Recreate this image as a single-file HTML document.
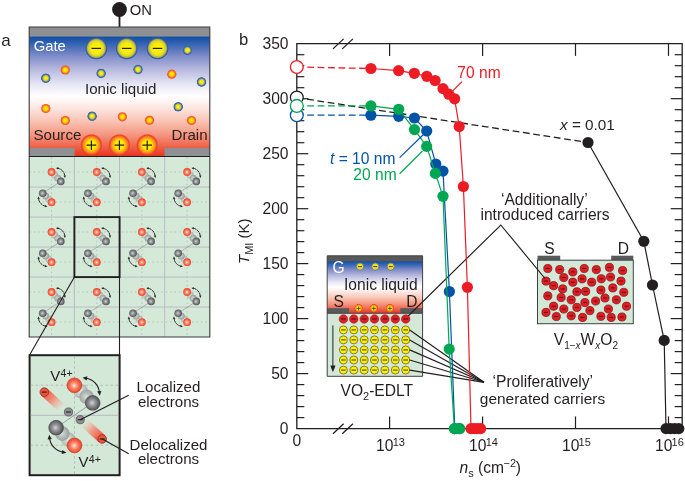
<!DOCTYPE html>
<html><head><meta charset="utf-8"><title>Figure</title>
<style>
html,body{margin:0;padding:0;background:#fff;}
svg{display:block;}
text{font-family:"Liberation Sans",sans-serif;fill:#231f20;}
.it{font-style:italic;}
</style></head><body>
<svg width="685" height="481" viewBox="0 0 685 481">
<defs>
<linearGradient id="liq" x1="0" y1="0" x2="0" y2="1">
<stop offset="0" stop-color="#0d4fa3"/>
<stop offset="0.05" stop-color="#2a5db0"/>
<stop offset="0.166" stop-color="#7f8cc8"/>
<stop offset="0.28" stop-color="#b8badf"/>
<stop offset="0.40" stop-color="#e6e6f4"/>
<stop offset="0.50" stop-color="#ffffff"/>
<stop offset="0.60" stop-color="#fde6e0"/>
<stop offset="0.71" stop-color="#f9c2b3"/>
<stop offset="0.81" stop-color="#f59a84"/>
<stop offset="0.905" stop-color="#ef6a50"/>
<stop offset="1" stop-color="#e8311f"/>
</linearGradient>
<radialGradient id="gMinus" cx="0.5" cy="0.5" r="0.5">
<stop offset="0" stop-color="#fff200"/>
<stop offset="0.45" stop-color="#f8ec10"/>
<stop offset="0.68" stop-color="#dcd32a"/>
<stop offset="0.79" stop-color="#b0ae46"/>
<stop offset="0.86" stop-color="#4f7098"/>
<stop offset="0.91" stop-color="#2c5aa8"/>
<stop offset="0.96" stop-color="#2c5aa8" stop-opacity="0.45"/>
<stop offset="1" stop-color="#2c5aa8" stop-opacity="0"/>
</radialGradient>
<radialGradient id="gPlus" cx="0.5" cy="0.5" r="0.5">
<stop offset="0" stop-color="#fff200"/>
<stop offset="0.4" stop-color="#ffe800"/>
<stop offset="0.62" stop-color="#f9a61a"/>
<stop offset="0.78" stop-color="#f36f21"/>
<stop offset="0.88" stop-color="#ee3e2a"/>
<stop offset="0.94" stop-color="#ee3e2a" stop-opacity="0.55"/>
<stop offset="1" stop-color="#ee3e2a" stop-opacity="0"/>
</radialGradient>
<radialGradient id="gOr" cx="0.5" cy="0.5" r="0.5">
<stop offset="0" stop-color="#fff200"/>
<stop offset="0.45" stop-color="#ffd400"/>
<stop offset="0.75" stop-color="#f7741d"/>
<stop offset="1" stop-color="#ef4136"/>
</radialGradient>
<radialGradient id="gBl" cx="0.5" cy="0.5" r="0.5">
<stop offset="0" stop-color="#fff200"/>
<stop offset="0.42" stop-color="#efe020"/>
<stop offset="0.62" stop-color="#99a35c"/>
<stop offset="0.78" stop-color="#3c68b0"/>
<stop offset="0.92" stop-color="#3c68b0"/>
<stop offset="1" stop-color="#3c68b0" stop-opacity="0.3"/>
</radialGradient>
<radialGradient id="sRed" cx="0.48" cy="0.52" r="0.56">
<stop offset="0" stop-color="#fff1ea"/>
<stop offset="0.3" stop-color="#fb9a82"/>
<stop offset="0.7" stop-color="#f25a3c"/>
<stop offset="1" stop-color="#e8412a"/>
</radialGradient>
<radialGradient id="sGray" cx="0.46" cy="0.5" r="0.58">
<stop offset="0" stop-color="#d6d7d9"/>
<stop offset="0.35" stop-color="#98999c"/>
<stop offset="0.8" stop-color="#5d5e61"/>
<stop offset="1" stop-color="#454547"/>
</radialGradient>
<radialGradient id="sGhost" cx="0.46" cy="0.5" r="0.58">
<stop offset="0" stop-color="#e4e9e5"/>
<stop offset="0.6" stop-color="#bcc5c0"/>
<stop offset="1" stop-color="#a3ada8"/>
</radialGradient>
<radialGradient id="sGhost2" cx="0.46" cy="0.5" r="0.58">
<stop offset="0" stop-color="#d9dedb"/>
<stop offset="0.6" stop-color="#aab2ae"/>
<stop offset="1" stop-color="#8f9894"/>
</radialGradient>
<linearGradient id="tail1" gradientUnits="userSpaceOnUse" x1="44" y1="392" x2="62" y2="408.5">
<stop offset="0" stop-color="#ee4a30"/>
<stop offset="0.5" stop-color="#f28a74" stop-opacity="0.85"/>
<stop offset="1" stop-color="#f6b0a0" stop-opacity="0"/>
</linearGradient>
<linearGradient id="tail2" gradientUnits="userSpaceOnUse" x1="102" y1="438.7" x2="84" y2="422">
<stop offset="0" stop-color="#ee4a30"/>
<stop offset="0.5" stop-color="#f28a74" stop-opacity="0.85"/>
<stop offset="1" stop-color="#f6b0a0" stop-opacity="0"/>
</linearGradient>
<g id="pair">
<line x1="31.6" y1="24.3" x2="13.5" y2="36.1" stroke="#8c8c90" stroke-width="0.6"/>
<circle cx="25.4" cy="18" r="3.5" fill="url(#sGhost)"/>
<circle cx="28.6" cy="21.2" r="3.5" fill="url(#sGhost2)"/>
<circle cx="31.6" cy="24.3" r="3.8" fill="url(#sGray)"/>
<circle cx="22.4" cy="14.9" r="3.9" fill="url(#sRed)"/>
<path d="M28.49 11.13 A8.6 8.6 0 0 1 35.58 19.00" fill="none" stroke="#231f20" stroke-width="0.95" stroke-dasharray="3.2 0.5"/>
<path d="M26.72 10.82 L29.29 10.05 L28.88 12.42 Z" fill="#231f20"/>
<path d="M35.70 20.80 L34.34 18.49 L36.73 18.32 Z" fill="#231f20"/>
<circle cx="19.6" cy="41.9" r="3.5" fill="url(#sGhost)"/>
<circle cx="16.5" cy="38.9" r="3.5" fill="url(#sGhost2)"/>
<circle cx="13.5" cy="36.1" r="3.8" fill="url(#sGray)"/>
<circle cx="22.4" cy="45.1" r="3.9" fill="url(#sRed)"/>
<path d="M16.46 49.07 A8.6 8.6 0 0 1 9.37 41.20" fill="none" stroke="#231f20" stroke-width="0.95" stroke-dasharray="3.2 0.5"/>
<path d="M18.23 49.38 L15.66 50.15 L16.07 47.78 Z" fill="#231f20"/>
<path d="M9.25 39.40 L10.61 41.71 L8.22 41.88 Z" fill="#231f20"/>
</g>
</defs>
<rect width="685" height="481" fill="#fff"/>

<g id="panelA" font-size="15.1">
<text x="1.2" y="46.4" font-size="17">a</text>
<line x1="119.5" y1="9" x2="119.5" y2="28" stroke="#231f20" stroke-width="1.8"/>
<circle cx="119.5" cy="9.5" r="7.4" fill="#231f20"/>
<text x="129.8" y="15" font-size="14.8">ON</text>
<rect x="29.2" y="36" width="180.60000000000002" height="120.5" fill="url(#liq)"/>
<rect x="29.2" y="27" width="180.60000000000002" height="9.6" fill="#8e9093"/>
<rect x="29.2" y="148" width="45.3" height="8.6" fill="#8e9093"/>
<rect x="164.5" y="148" width="45.30000000000001" height="8.6" fill="#8e9093"/>
<circle cx="65.3" cy="70" r="4.6" fill="url(#gOr)"/>
<circle cx="171.8" cy="74.2" r="4.6" fill="url(#gOr)"/>
<circle cx="45.8" cy="108.5" r="4.6" fill="url(#gOr)"/>
<circle cx="65.3" cy="120.5" r="4.6" fill="url(#gOr)"/>
<circle cx="122.4" cy="116.8" r="4.6" fill="url(#gOr)"/>
<circle cx="149.5" cy="120.3" r="4.6" fill="url(#gOr)"/>
<circle cx="191.5" cy="120.5" r="4.6" fill="url(#gOr)"/>
<circle cx="45.8" cy="78.2" r="4.9" fill="url(#gBl)"/>
<circle cx="101.1" cy="73.4" r="4.9" fill="url(#gBl)"/>
<circle cx="138" cy="69.5" r="4.9" fill="url(#gBl)"/>
<circle cx="187.5" cy="50.3" r="4.9" fill="url(#gBl)"/>
<circle cx="201.5" cy="82" r="4.9" fill="url(#gBl)"/>
<circle cx="178.2" cy="106.8" r="4.9" fill="url(#gBl)"/>
<circle cx="92.1" cy="116.2" r="4.9" fill="url(#gBl)"/>
<circle cx="96.3" cy="48.4" r="11.4" fill="url(#gMinus)"/>
<line x1="91.5" y1="48.4" x2="101.1" y2="48.4" stroke="#231f20" stroke-width="1.2"/>
<circle cx="126.7" cy="48.4" r="11.4" fill="url(#gMinus)"/>
<line x1="121.9" y1="48.4" x2="131.5" y2="48.4" stroke="#231f20" stroke-width="1.2"/>
<circle cx="157.5" cy="48.4" r="11.4" fill="url(#gMinus)"/>
<line x1="152.7" y1="48.4" x2="162.3" y2="48.4" stroke="#231f20" stroke-width="1.2"/>
<circle cx="91.4" cy="145" r="11.2" fill="url(#gPlus)"/>
<path d="M86.60000000000001 145.2 h9.6 M91.4 140.4 v9.6" stroke="#231f20" stroke-width="1.2" fill="none"/>
<circle cx="119.4" cy="145" r="11.2" fill="url(#gPlus)"/>
<path d="M114.60000000000001 145.2 h9.6 M119.4 140.4 v9.6" stroke="#231f20" stroke-width="1.2" fill="none"/>
<circle cx="147.2" cy="145" r="11.2" fill="url(#gPlus)"/>
<path d="M142.39999999999998 145.2 h9.6 M147.2 140.4 v9.6" stroke="#231f20" stroke-width="1.2" fill="none"/>
<text x="33.7" y="51" font-size="14.8" style="fill:#fff">Gate</text>
<text x="85" y="94">Ionic liquid</text>
<text x="33.5" y="140">Source</text>
<text x="171.5" y="140">Drain</text>
<rect x="29.2" y="156.3" width="180.60000000000002" height="180.7" fill="#d5e9d9"/>
<line x1="74.4" y1="157.1" x2="74.4" y2="337.0" stroke="#b7b7c2" stroke-width="0.9"/>
<line x1="119.5" y1="157.1" x2="119.5" y2="337.0" stroke="#b7b7c2" stroke-width="0.9"/>
<line x1="164.7" y1="157.1" x2="164.7" y2="337.0" stroke="#b7b7c2" stroke-width="0.9"/>
<line x1="29.2" y1="187.1" x2="209.8" y2="187.1" stroke="#b7b7c2" stroke-width="0.9"/>
<line x1="29.2" y1="217.1" x2="209.8" y2="217.1" stroke="#b7b7c2" stroke-width="0.9"/>
<line x1="29.2" y1="247.1" x2="209.8" y2="247.1" stroke="#b7b7c2" stroke-width="0.9"/>
<line x1="29.2" y1="277.1" x2="209.8" y2="277.1" stroke="#b7b7c2" stroke-width="0.9"/>
<line x1="29.2" y1="307.1" x2="209.8" y2="307.1" stroke="#b7b7c2" stroke-width="0.9"/>
<line x1="51.6" y1="157.1" x2="51.6" y2="337.0" stroke="#aab7b1" stroke-width="0.7" stroke-dasharray="1.7 2.7"/>
<line x1="96.8" y1="157.1" x2="96.8" y2="337.0" stroke="#aab7b1" stroke-width="0.7" stroke-dasharray="1.7 2.7"/>
<line x1="141.9" y1="157.1" x2="141.9" y2="337.0" stroke="#aab7b1" stroke-width="0.7" stroke-dasharray="1.7 2.7"/>
<line x1="187.1" y1="157.1" x2="187.1" y2="337.0" stroke="#aab7b1" stroke-width="0.7" stroke-dasharray="1.7 2.7"/>
<line x1="29.2" y1="172.0" x2="209.8" y2="172.0" stroke="#aab7b1" stroke-width="0.7" stroke-dasharray="1.7 2.7"/>
<line x1="29.2" y1="202.0" x2="209.8" y2="202.0" stroke="#aab7b1" stroke-width="0.7" stroke-dasharray="1.7 2.7"/>
<line x1="29.2" y1="232.0" x2="209.8" y2="232.0" stroke="#aab7b1" stroke-width="0.7" stroke-dasharray="1.7 2.7"/>
<line x1="29.2" y1="262.0" x2="209.8" y2="262.0" stroke="#aab7b1" stroke-width="0.7" stroke-dasharray="1.7 2.7"/>
<line x1="29.2" y1="292.0" x2="209.8" y2="292.0" stroke="#aab7b1" stroke-width="0.7" stroke-dasharray="1.7 2.7"/>
<line x1="29.2" y1="322.0" x2="209.8" y2="322.0" stroke="#aab7b1" stroke-width="0.7" stroke-dasharray="1.7 2.7"/>
<use href="#pair" x="29.2" y="157.1"/>
<use href="#pair" x="29.2" y="217.1"/>
<use href="#pair" x="29.2" y="277.1"/>
<use href="#pair" x="74.4" y="157.1"/>
<use href="#pair" x="74.4" y="217.1"/>
<use href="#pair" x="74.4" y="277.1"/>
<use href="#pair" x="119.5" y="157.1"/>
<use href="#pair" x="119.5" y="217.1"/>
<use href="#pair" x="119.5" y="277.1"/>
<use href="#pair" x="164.7" y="157.1"/>
<use href="#pair" x="164.7" y="217.1"/>
<use href="#pair" x="164.7" y="277.1"/>
<path d="M29.2 27 H209.8 V337.0 H29.2 Z" fill="none" stroke="#3a3a3c" stroke-width="1.1"/>
<line x1="29.2" y1="156.5" x2="209.8" y2="156.5" stroke="#231f20" stroke-width="1"/>
<rect x="74.4" y="217.1" width="45.2" height="60" fill="none" stroke="#231f20" stroke-width="1.9"/>
<line x1="74.4" y1="277" x2="29.6" y2="355" stroke="#231f20" stroke-width="1.1"/>
<line x1="119.5" y1="277" x2="119.5" y2="355" stroke="#231f20" stroke-width="1.1"/>
<rect x="29.6" y="355.2" width="90" height="120" fill="#d4e8d8" stroke="#231f20" stroke-width="2"/>
<line x1="30.6" y1="415.3" x2="118.6" y2="415.3" stroke="#aeabbb" stroke-width="0.8"/>
<line x1="74.5" y1="356.2" x2="74.5" y2="474.2" stroke="#aab4b0" stroke-width="0.8" stroke-dasharray="2.5 2.5"/>
<line x1="30.6" y1="385.2" x2="118.6" y2="385.2" stroke="#aab4b0" stroke-width="0.8" stroke-dasharray="2.5 2.5"/>
<line x1="30.6" y1="445.2" x2="118.6" y2="445.2" stroke="#aab4b0" stroke-width="0.8" stroke-dasharray="2.5 2.5"/>
<line x1="92.9" y1="402.6" x2="56.1" y2="427.7" stroke="#8c8c90" stroke-width="0.8"/>
<path d="M41.1 395.5 L47.5 388.7 L66.2 405.7 L59.8 412.5 Z" fill="url(#tail1)"/>
<path d="M105.4 435.6 L99 442.4 L80.3 425.4 L86.7 418.6 Z" fill="url(#tail2)"/>
<circle cx="80.6" cy="391" r="7.3" fill="url(#sGhost)" opacity="0.95"/>
<circle cx="86.6" cy="396.8" r="7.3" fill="url(#sGhost2)" opacity="0.95"/>
<circle cx="92.7" cy="402.9" r="7.4" fill="url(#sGray)" stroke="#3a3a3c" stroke-width="0.5"/>
<circle cx="74.4" cy="385.3" r="7.4" fill="url(#sRed)" stroke="#c4351f" stroke-width="0.6"/>
<circle cx="68.4" cy="439.6" r="7.3" fill="url(#sGhost)" opacity="0.95"/>
<circle cx="62.3" cy="433.6" r="7.3" fill="url(#sGhost2)" opacity="0.95"/>
<circle cx="56.1" cy="427.7" r="7.4" fill="url(#sGray)" stroke="#3a3a3c" stroke-width="0.5"/>
<circle cx="74.5" cy="445.4" r="7.4" fill="url(#sRed)" stroke="#c4351f" stroke-width="0.6"/>
<circle cx="68.5" cy="412" r="4.1" fill="#8d8f92" stroke="#48484a" stroke-width="0.7"/>
<line x1="66.1" y1="412" x2="70.9" y2="412" stroke="#231f20" stroke-width="1.1"/>
<circle cx="80.2" cy="419.7" r="4.1" fill="#8d8f92" stroke="#48484a" stroke-width="0.7"/>
<line x1="77.8" y1="419.7" x2="82.60000000000001" y2="419.7" stroke="#231f20" stroke-width="1.1"/>
<circle cx="44.3" cy="392.1" r="4.3" fill="#ef5238" stroke="#7a2a1e" stroke-width="0.7"/>
<line x1="41.8" y1="392.1" x2="46.8" y2="392.1" stroke="#231f20" stroke-width="1.1"/>
<circle cx="102.2" cy="439" r="4.3" fill="#ef5238" stroke="#7a2a1e" stroke-width="0.7"/>
<line x1="99.7" y1="439" x2="104.7" y2="439" stroke="#231f20" stroke-width="1.1"/>
<path d="M85.90 378.25 A15.8 15.8 0 0 1 99.41 392.25" fill="none" stroke="#231f20" stroke-width="1.1"/>
<path d="M82.48 377.77 L87.33 376.33 L86.75 380.49 Z" fill="#231f20"/>
<path d="M99.77 395.68 L97.20 391.32 L101.38 390.89 Z" fill="#231f20"/>
<path d="M63.10 452.15 A15.8 15.8 0 0 1 49.59 438.15" fill="none" stroke="#231f20" stroke-width="1.1"/>
<path d="M66.52 452.63 L61.67 454.07 L62.25 449.91 Z" fill="#231f20"/>
<path d="M49.23 434.72 L51.80 439.08 L47.62 439.51 Z" fill="#231f20"/>
<text x="50.3" y="381.4" font-size="15">V<tspan font-size="10.6" dy="-4.8" dx="0.3">4+</tspan></text>
<text x="78.5" y="467.4" font-size="15">V<tspan font-size="10.6" dy="-4.6" dx="0.3">4+</tspan></text>
<line x1="80.2" y1="419.7" x2="128.7" y2="395.3" stroke="#231f20" stroke-width="1.2"/>
<line x1="101.9" y1="438.7" x2="128.7" y2="453.8" stroke="#231f20" stroke-width="1.2"/>
<text x="168.5" y="391.8" text-anchor="middle">Localized</text>
<text x="168.5" y="406.5" text-anchor="middle">electrons</text>
<text x="168.5" y="449.6" text-anchor="middle">Delocalized</text>
<text x="168.5" y="464.4" text-anchor="middle">electrons</text>
</g>
<g id="panelB" font-size="15.6">
<text x="238.9" y="44.8" font-size="16.6">b</text>
<rect x="327.2" y="261" width="95.40000000000003" height="52.3" fill="url(#liq)"/>
<rect x="327.2" y="255.8" width="95.40000000000003" height="5.6" fill="#58595b"/>
<rect x="327.2" y="308.2" width="21.900000000000034" height="5.1" fill="#58595b"/>
<rect x="400.4" y="308.2" width="22.200000000000045" height="5.1" fill="#58595b"/>
<rect x="327.2" y="313.3" width="95.40000000000003" height="63.0" fill="#d4e8d8"/>
<path d="M327.2 255.8 H422.6 V376.3 H327.2 Z M327.2 313.3 H422.6" fill="none" stroke="#414042" stroke-width="1"/>
<circle cx="360" cy="266.6" r="3.6" fill="#f2e21a" stroke="#5f79a0" stroke-width="0.9"/>
<line x1="358" y1="266.6" x2="362" y2="266.6" stroke="#231f20" stroke-width="0.8"/>
<circle cx="375.3" cy="266.6" r="3.6" fill="#f2e21a" stroke="#5f79a0" stroke-width="0.9"/>
<line x1="373.3" y1="266.6" x2="377.3" y2="266.6" stroke="#231f20" stroke-width="0.8"/>
<circle cx="390.7" cy="266.6" r="3.6" fill="#f2e21a" stroke="#5f79a0" stroke-width="0.9"/>
<line x1="388.7" y1="266.6" x2="392.7" y2="266.6" stroke="#231f20" stroke-width="0.8"/>
<circle cx="358.6" cy="308.2" r="4.4" fill="url(#gPlus)"/>
<path d="M356.6 308.4 h4 M358.6 306.4 v4" stroke="#231f20" stroke-width="0.7" fill="none"/>
<circle cx="373.8" cy="308.2" r="4.4" fill="url(#gPlus)"/>
<path d="M371.8 308.4 h4 M373.8 306.4 v4" stroke="#231f20" stroke-width="0.7" fill="none"/>
<circle cx="389.9" cy="308.2" r="4.4" fill="url(#gPlus)"/>
<path d="M387.9 308.4 h4 M389.9 306.4 v4" stroke="#231f20" stroke-width="0.7" fill="none"/>
<text x="332.5" y="272.9" style="fill:#fff">G</text>
<text x="344" y="290.4">Ionic liquid</text>
<text x="333.5" y="307">S</text>
<text x="406.3" y="307">D</text>
<circle cx="343.4" cy="319" r="4.3" fill="#e31b23" stroke="#8c1c1c" stroke-width="0.5"/>
<line x1="341.0" y1="319" x2="345.8" y2="319" stroke="#231f20" stroke-width="0.9"/>
<circle cx="353.8" cy="319" r="4.3" fill="#e31b23" stroke="#8c1c1c" stroke-width="0.5"/>
<line x1="351.4" y1="319" x2="356.2" y2="319" stroke="#231f20" stroke-width="0.9"/>
<circle cx="364.2" cy="319" r="4.3" fill="#e31b23" stroke="#8c1c1c" stroke-width="0.5"/>
<line x1="361.8" y1="319" x2="366.6" y2="319" stroke="#231f20" stroke-width="0.9"/>
<circle cx="374.5" cy="319" r="4.3" fill="#e31b23" stroke="#8c1c1c" stroke-width="0.5"/>
<line x1="372.1" y1="319" x2="376.9" y2="319" stroke="#231f20" stroke-width="0.9"/>
<circle cx="384.9" cy="319" r="4.3" fill="#e31b23" stroke="#8c1c1c" stroke-width="0.5"/>
<line x1="382.5" y1="319" x2="387.3" y2="319" stroke="#231f20" stroke-width="0.9"/>
<circle cx="395.3" cy="319" r="4.3" fill="#e31b23" stroke="#8c1c1c" stroke-width="0.5"/>
<line x1="392.9" y1="319" x2="397.7" y2="319" stroke="#231f20" stroke-width="0.9"/>
<circle cx="405.7" cy="319" r="4.3" fill="#e31b23" stroke="#8c1c1c" stroke-width="0.5"/>
<line x1="403.3" y1="319" x2="408.1" y2="319" stroke="#231f20" stroke-width="0.9"/>
<circle cx="343.4" cy="329.9" r="4" fill="#fff200" stroke="#5c4a12" stroke-width="0.7"/>
<line x1="341.1" y1="329.9" x2="345.7" y2="329.9" stroke="#231f20" stroke-width="0.9"/>
<circle cx="353.8" cy="329.9" r="4" fill="#fff200" stroke="#5c4a12" stroke-width="0.7"/>
<line x1="351.5" y1="329.9" x2="356.1" y2="329.9" stroke="#231f20" stroke-width="0.9"/>
<circle cx="364.2" cy="329.9" r="4" fill="#fff200" stroke="#5c4a12" stroke-width="0.7"/>
<line x1="361.9" y1="329.9" x2="366.5" y2="329.9" stroke="#231f20" stroke-width="0.9"/>
<circle cx="374.5" cy="329.9" r="4" fill="#fff200" stroke="#5c4a12" stroke-width="0.7"/>
<line x1="372.2" y1="329.9" x2="376.8" y2="329.9" stroke="#231f20" stroke-width="0.9"/>
<circle cx="384.9" cy="329.9" r="4" fill="#fff200" stroke="#5c4a12" stroke-width="0.7"/>
<line x1="382.6" y1="329.9" x2="387.2" y2="329.9" stroke="#231f20" stroke-width="0.9"/>
<circle cx="395.3" cy="329.9" r="4" fill="#fff200" stroke="#5c4a12" stroke-width="0.7"/>
<line x1="393.0" y1="329.9" x2="397.6" y2="329.9" stroke="#231f20" stroke-width="0.9"/>
<circle cx="405.7" cy="329.9" r="4" fill="#fff200" stroke="#5c4a12" stroke-width="0.7"/>
<line x1="403.4" y1="329.9" x2="408.0" y2="329.9" stroke="#231f20" stroke-width="0.9"/>
<circle cx="343.4" cy="339.9" r="4" fill="#fff200" stroke="#5c4a12" stroke-width="0.7"/>
<line x1="341.1" y1="339.9" x2="345.7" y2="339.9" stroke="#231f20" stroke-width="0.9"/>
<circle cx="353.8" cy="339.9" r="4" fill="#fff200" stroke="#5c4a12" stroke-width="0.7"/>
<line x1="351.5" y1="339.9" x2="356.1" y2="339.9" stroke="#231f20" stroke-width="0.9"/>
<circle cx="364.2" cy="339.9" r="4" fill="#fff200" stroke="#5c4a12" stroke-width="0.7"/>
<line x1="361.9" y1="339.9" x2="366.5" y2="339.9" stroke="#231f20" stroke-width="0.9"/>
<circle cx="374.5" cy="339.9" r="4" fill="#fff200" stroke="#5c4a12" stroke-width="0.7"/>
<line x1="372.2" y1="339.9" x2="376.8" y2="339.9" stroke="#231f20" stroke-width="0.9"/>
<circle cx="384.9" cy="339.9" r="4" fill="#fff200" stroke="#5c4a12" stroke-width="0.7"/>
<line x1="382.6" y1="339.9" x2="387.2" y2="339.9" stroke="#231f20" stroke-width="0.9"/>
<circle cx="395.3" cy="339.9" r="4" fill="#fff200" stroke="#5c4a12" stroke-width="0.7"/>
<line x1="393.0" y1="339.9" x2="397.6" y2="339.9" stroke="#231f20" stroke-width="0.9"/>
<circle cx="405.7" cy="339.9" r="4" fill="#fff200" stroke="#5c4a12" stroke-width="0.7"/>
<line x1="403.4" y1="339.9" x2="408.0" y2="339.9" stroke="#231f20" stroke-width="0.9"/>
<circle cx="343.4" cy="349.9" r="4" fill="#fff200" stroke="#5c4a12" stroke-width="0.7"/>
<line x1="341.1" y1="349.9" x2="345.7" y2="349.9" stroke="#231f20" stroke-width="0.9"/>
<circle cx="353.8" cy="349.9" r="4" fill="#fff200" stroke="#5c4a12" stroke-width="0.7"/>
<line x1="351.5" y1="349.9" x2="356.1" y2="349.9" stroke="#231f20" stroke-width="0.9"/>
<circle cx="364.2" cy="349.9" r="4" fill="#fff200" stroke="#5c4a12" stroke-width="0.7"/>
<line x1="361.9" y1="349.9" x2="366.5" y2="349.9" stroke="#231f20" stroke-width="0.9"/>
<circle cx="374.5" cy="349.9" r="4" fill="#fff200" stroke="#5c4a12" stroke-width="0.7"/>
<line x1="372.2" y1="349.9" x2="376.8" y2="349.9" stroke="#231f20" stroke-width="0.9"/>
<circle cx="384.9" cy="349.9" r="4" fill="#fff200" stroke="#5c4a12" stroke-width="0.7"/>
<line x1="382.6" y1="349.9" x2="387.2" y2="349.9" stroke="#231f20" stroke-width="0.9"/>
<circle cx="395.3" cy="349.9" r="4" fill="#fff200" stroke="#5c4a12" stroke-width="0.7"/>
<line x1="393.0" y1="349.9" x2="397.6" y2="349.9" stroke="#231f20" stroke-width="0.9"/>
<circle cx="405.7" cy="349.9" r="4" fill="#fff200" stroke="#5c4a12" stroke-width="0.7"/>
<line x1="403.4" y1="349.9" x2="408.0" y2="349.9" stroke="#231f20" stroke-width="0.9"/>
<circle cx="343.4" cy="360" r="4" fill="#fff200" stroke="#5c4a12" stroke-width="0.7"/>
<line x1="341.1" y1="360" x2="345.7" y2="360" stroke="#231f20" stroke-width="0.9"/>
<circle cx="353.8" cy="360" r="4" fill="#fff200" stroke="#5c4a12" stroke-width="0.7"/>
<line x1="351.5" y1="360" x2="356.1" y2="360" stroke="#231f20" stroke-width="0.9"/>
<circle cx="364.2" cy="360" r="4" fill="#fff200" stroke="#5c4a12" stroke-width="0.7"/>
<line x1="361.9" y1="360" x2="366.5" y2="360" stroke="#231f20" stroke-width="0.9"/>
<circle cx="374.5" cy="360" r="4" fill="#fff200" stroke="#5c4a12" stroke-width="0.7"/>
<line x1="372.2" y1="360" x2="376.8" y2="360" stroke="#231f20" stroke-width="0.9"/>
<circle cx="384.9" cy="360" r="4" fill="#fff200" stroke="#5c4a12" stroke-width="0.7"/>
<line x1="382.6" y1="360" x2="387.2" y2="360" stroke="#231f20" stroke-width="0.9"/>
<circle cx="395.3" cy="360" r="4" fill="#fff200" stroke="#5c4a12" stroke-width="0.7"/>
<line x1="393.0" y1="360" x2="397.6" y2="360" stroke="#231f20" stroke-width="0.9"/>
<circle cx="405.7" cy="360" r="4" fill="#fff200" stroke="#5c4a12" stroke-width="0.7"/>
<line x1="403.4" y1="360" x2="408.0" y2="360" stroke="#231f20" stroke-width="0.9"/>
<circle cx="343.4" cy="370.1" r="4" fill="#fff200" stroke="#5c4a12" stroke-width="0.7"/>
<line x1="341.1" y1="370.1" x2="345.7" y2="370.1" stroke="#231f20" stroke-width="0.9"/>
<circle cx="353.8" cy="370.1" r="4" fill="#fff200" stroke="#5c4a12" stroke-width="0.7"/>
<line x1="351.5" y1="370.1" x2="356.1" y2="370.1" stroke="#231f20" stroke-width="0.9"/>
<circle cx="364.2" cy="370.1" r="4" fill="#fff200" stroke="#5c4a12" stroke-width="0.7"/>
<line x1="361.9" y1="370.1" x2="366.5" y2="370.1" stroke="#231f20" stroke-width="0.9"/>
<circle cx="374.5" cy="370.1" r="4" fill="#fff200" stroke="#5c4a12" stroke-width="0.7"/>
<line x1="372.2" y1="370.1" x2="376.8" y2="370.1" stroke="#231f20" stroke-width="0.9"/>
<circle cx="384.9" cy="370.1" r="4" fill="#fff200" stroke="#5c4a12" stroke-width="0.7"/>
<line x1="382.6" y1="370.1" x2="387.2" y2="370.1" stroke="#231f20" stroke-width="0.9"/>
<circle cx="395.3" cy="370.1" r="4" fill="#fff200" stroke="#5c4a12" stroke-width="0.7"/>
<line x1="393.0" y1="370.1" x2="397.6" y2="370.1" stroke="#231f20" stroke-width="0.9"/>
<circle cx="405.7" cy="370.1" r="4" fill="#fff200" stroke="#5c4a12" stroke-width="0.7"/>
<line x1="403.4" y1="370.1" x2="408.0" y2="370.1" stroke="#231f20" stroke-width="0.9"/>
<line x1="332.9" y1="325.4" x2="332.9" y2="368" stroke="#231f20" stroke-width="1"/>
<path d="M330.3 365.5 L332.9 372.3 L335.5 365.5 Z" fill="#231f20"/>
<text x="340.5" y="396">VO<tspan font-size="11" dy="4.2">2</tspan><tspan dy="-4.2">-EDLT</tspan></text>
<line x1="409.7" y1="329.9" x2="484" y2="382.3" stroke="#231f20" stroke-width="1.2"/>
<line x1="409.7" y1="339.9" x2="484" y2="382.3" stroke="#231f20" stroke-width="1.2"/>
<line x1="409.7" y1="349.9" x2="484" y2="382.3" stroke="#231f20" stroke-width="1.2"/>
<line x1="409.7" y1="360" x2="484" y2="382.3" stroke="#231f20" stroke-width="1.2"/>
<line x1="409.7" y1="370.1" x2="484" y2="382.3" stroke="#231f20" stroke-width="1.2"/>
<rect x="537.5" y="255.7" width="22.700000000000045" height="4.6" fill="#58595b"/>
<rect x="611.2" y="255.7" width="22.09999999999991" height="4.6" fill="#58595b"/>
<rect x="537.5" y="260.2" width="95.79999999999995" height="63.5" fill="#d4e8d8" stroke="#414042" stroke-width="1"/>
<circle cx="547.8" cy="268.5" r="4.1" fill="#e31b23" stroke="#6a1515" stroke-width="0.7"/>
<line x1="545.8" y1="268.5" x2="549.8" y2="268.5" stroke="#4a0d0d" stroke-width="0.9"/>
<circle cx="559.7" cy="269.6" r="4.1" fill="#e31b23" stroke="#6a1515" stroke-width="0.7"/>
<line x1="557.7" y1="269.6" x2="561.7" y2="269.6" stroke="#4a0d0d" stroke-width="0.9"/>
<circle cx="572.8" cy="271.9" r="4.1" fill="#e31b23" stroke="#6a1515" stroke-width="0.7"/>
<line x1="570.8" y1="271.9" x2="574.8" y2="271.9" stroke="#4a0d0d" stroke-width="0.9"/>
<circle cx="584.2" cy="268.5" r="4.1" fill="#e31b23" stroke="#6a1515" stroke-width="0.7"/>
<line x1="582.2" y1="268.5" x2="586.2" y2="268.5" stroke="#4a0d0d" stroke-width="0.9"/>
<circle cx="596.3" cy="269.6" r="4.1" fill="#e31b23" stroke="#6a1515" stroke-width="0.7"/>
<line x1="594.3" y1="269.6" x2="598.3" y2="269.6" stroke="#4a0d0d" stroke-width="0.9"/>
<circle cx="609.4" cy="267.4" r="4.1" fill="#e31b23" stroke="#6a1515" stroke-width="0.7"/>
<line x1="607.4" y1="267.4" x2="611.4" y2="267.4" stroke="#4a0d0d" stroke-width="0.9"/>
<circle cx="622.6" cy="270.6" r="4.1" fill="#e31b23" stroke="#6a1515" stroke-width="0.7"/>
<line x1="620.6" y1="270.6" x2="624.6" y2="270.6" stroke="#4a0d0d" stroke-width="0.9"/>
<circle cx="563.8" cy="277.6" r="4.1" fill="#e31b23" stroke="#6a1515" stroke-width="0.7"/>
<line x1="561.8" y1="277.6" x2="565.8" y2="277.6" stroke="#4a0d0d" stroke-width="0.9"/>
<circle cx="572.8" cy="282.2" r="4.1" fill="#e31b23" stroke="#6a1515" stroke-width="0.7"/>
<line x1="570.8" y1="282.2" x2="574.8" y2="282.2" stroke="#4a0d0d" stroke-width="0.9"/>
<circle cx="582.1" cy="278.8" r="4.1" fill="#e31b23" stroke="#6a1515" stroke-width="0.7"/>
<line x1="580.1" y1="278.8" x2="584.1" y2="278.8" stroke="#4a0d0d" stroke-width="0.9"/>
<circle cx="591.7" cy="282.2" r="4.1" fill="#e31b23" stroke="#6a1515" stroke-width="0.7"/>
<line x1="589.7" y1="282.2" x2="593.7" y2="282.2" stroke="#4a0d0d" stroke-width="0.9"/>
<circle cx="601.3" cy="278.8" r="4.1" fill="#e31b23" stroke="#6a1515" stroke-width="0.7"/>
<line x1="599.3" y1="278.8" x2="603.3" y2="278.8" stroke="#4a0d0d" stroke-width="0.9"/>
<circle cx="610.5" cy="277.0" r="4.1" fill="#e31b23" stroke="#6a1515" stroke-width="0.7"/>
<line x1="608.5" y1="277.0" x2="612.5" y2="277.0" stroke="#4a0d0d" stroke-width="0.9"/>
<circle cx="621.0" cy="281.1" r="4.1" fill="#e31b23" stroke="#6a1515" stroke-width="0.7"/>
<line x1="619.0" y1="281.1" x2="623.0" y2="281.1" stroke="#4a0d0d" stroke-width="0.9"/>
<circle cx="546.0" cy="281.1" r="4.1" fill="#e31b23" stroke="#6a1515" stroke-width="0.7"/>
<line x1="544.0" y1="281.1" x2="548.0" y2="281.1" stroke="#4a0d0d" stroke-width="0.9"/>
<circle cx="553.6" cy="285.7" r="4.1" fill="#e31b23" stroke="#6a1515" stroke-width="0.7"/>
<line x1="551.6" y1="285.7" x2="555.6" y2="285.7" stroke="#4a0d0d" stroke-width="0.9"/>
<circle cx="562.7" cy="288.9" r="4.1" fill="#e31b23" stroke="#6a1515" stroke-width="0.7"/>
<line x1="560.7" y1="288.9" x2="564.7" y2="288.9" stroke="#4a0d0d" stroke-width="0.9"/>
<circle cx="576.9" cy="291.8" r="4.1" fill="#e31b23" stroke="#6a1515" stroke-width="0.7"/>
<line x1="574.9" y1="291.8" x2="578.9" y2="291.8" stroke="#4a0d0d" stroke-width="0.9"/>
<circle cx="585.6" cy="291.4" r="4.1" fill="#e31b23" stroke="#6a1515" stroke-width="0.7"/>
<line x1="583.6" y1="291.4" x2="587.6" y2="291.4" stroke="#4a0d0d" stroke-width="0.9"/>
<circle cx="600.9" cy="290.0" r="4.1" fill="#e31b23" stroke="#6a1515" stroke-width="0.7"/>
<line x1="598.9" y1="290.0" x2="602.9" y2="290.0" stroke="#4a0d0d" stroke-width="0.9"/>
<circle cx="612.8" cy="287.9" r="4.1" fill="#e31b23" stroke="#6a1515" stroke-width="0.7"/>
<line x1="610.8" y1="287.9" x2="614.8" y2="287.9" stroke="#4a0d0d" stroke-width="0.9"/>
<circle cx="623.8" cy="292.3" r="4.1" fill="#e31b23" stroke="#6a1515" stroke-width="0.7"/>
<line x1="621.8" y1="292.3" x2="625.8" y2="292.3" stroke="#4a0d0d" stroke-width="0.9"/>
<circle cx="547.8" cy="295.9" r="4.1" fill="#e31b23" stroke="#6a1515" stroke-width="0.7"/>
<line x1="545.8" y1="295.9" x2="549.8" y2="295.9" stroke="#4a0d0d" stroke-width="0.9"/>
<circle cx="561.1" cy="297.5" r="4.1" fill="#e31b23" stroke="#6a1515" stroke-width="0.7"/>
<line x1="559.1" y1="297.5" x2="563.1" y2="297.5" stroke="#4a0d0d" stroke-width="0.9"/>
<circle cx="571.2" cy="299.8" r="4.1" fill="#e31b23" stroke="#6a1515" stroke-width="0.7"/>
<line x1="569.2" y1="299.8" x2="573.2" y2="299.8" stroke="#4a0d0d" stroke-width="0.9"/>
<circle cx="584.9" cy="302.6" r="4.1" fill="#e31b23" stroke="#6a1515" stroke-width="0.7"/>
<line x1="582.9" y1="302.6" x2="586.9" y2="302.6" stroke="#4a0d0d" stroke-width="0.9"/>
<circle cx="595.6" cy="301.0" r="4.1" fill="#e31b23" stroke="#6a1515" stroke-width="0.7"/>
<line x1="593.6" y1="301.0" x2="597.6" y2="301.0" stroke="#4a0d0d" stroke-width="0.9"/>
<circle cx="605.0" cy="298.0" r="4.1" fill="#e31b23" stroke="#6a1515" stroke-width="0.7"/>
<line x1="603.0" y1="298.0" x2="607.0" y2="298.0" stroke="#4a0d0d" stroke-width="0.9"/>
<circle cx="616.4" cy="299.8" r="4.1" fill="#e31b23" stroke="#6a1515" stroke-width="0.7"/>
<line x1="614.4" y1="299.8" x2="618.4" y2="299.8" stroke="#4a0d0d" stroke-width="0.9"/>
<circle cx="626.5" cy="306.2" r="4.1" fill="#e31b23" stroke="#6a1515" stroke-width="0.7"/>
<line x1="624.5" y1="306.2" x2="628.5" y2="306.2" stroke="#4a0d0d" stroke-width="0.9"/>
<circle cx="553.6" cy="306.2" r="4.1" fill="#e31b23" stroke="#6a1515" stroke-width="0.7"/>
<line x1="551.6" y1="306.2" x2="555.6" y2="306.2" stroke="#4a0d0d" stroke-width="0.9"/>
<circle cx="563.8" cy="309.0" r="4.1" fill="#e31b23" stroke="#6a1515" stroke-width="0.7"/>
<line x1="561.8" y1="309.0" x2="565.8" y2="309.0" stroke="#4a0d0d" stroke-width="0.9"/>
<circle cx="576.9" cy="307.4" r="4.1" fill="#e31b23" stroke="#6a1515" stroke-width="0.7"/>
<line x1="574.9" y1="307.4" x2="578.9" y2="307.4" stroke="#4a0d0d" stroke-width="0.9"/>
<circle cx="589.9" cy="310.6" r="4.1" fill="#e31b23" stroke="#6a1515" stroke-width="0.7"/>
<line x1="587.9" y1="310.6" x2="591.9" y2="310.6" stroke="#4a0d0d" stroke-width="0.9"/>
<circle cx="608.4" cy="309.0" r="4.1" fill="#e31b23" stroke="#6a1515" stroke-width="0.7"/>
<line x1="606.4" y1="309.0" x2="610.4" y2="309.0" stroke="#4a0d0d" stroke-width="0.9"/>
<circle cx="546.0" cy="312.4" r="4.1" fill="#e31b23" stroke="#6a1515" stroke-width="0.7"/>
<line x1="544.0" y1="312.4" x2="548.0" y2="312.4" stroke="#4a0d0d" stroke-width="0.9"/>
<circle cx="556.3" cy="316.5" r="4.1" fill="#e31b23" stroke="#6a1515" stroke-width="0.7"/>
<line x1="554.3" y1="316.5" x2="558.3" y2="316.5" stroke="#4a0d0d" stroke-width="0.9"/>
<circle cx="571.2" cy="315.8" r="4.1" fill="#e31b23" stroke="#6a1515" stroke-width="0.7"/>
<line x1="569.2" y1="315.8" x2="573.2" y2="315.8" stroke="#4a0d0d" stroke-width="0.9"/>
<circle cx="582.6" cy="317.4" r="4.1" fill="#e31b23" stroke="#6a1515" stroke-width="0.7"/>
<line x1="580.6" y1="317.4" x2="584.6" y2="317.4" stroke="#4a0d0d" stroke-width="0.9"/>
<circle cx="600.9" cy="316.3" r="4.1" fill="#e31b23" stroke="#6a1515" stroke-width="0.7"/>
<line x1="598.9" y1="316.3" x2="602.9" y2="316.3" stroke="#4a0d0d" stroke-width="0.9"/>
<circle cx="611.2" cy="317.4" r="4.1" fill="#e31b23" stroke="#6a1515" stroke-width="0.7"/>
<line x1="609.2" y1="317.4" x2="613.2" y2="317.4" stroke="#4a0d0d" stroke-width="0.9"/>
<circle cx="621.9" cy="317.0" r="4.1" fill="#e31b23" stroke="#6a1515" stroke-width="0.7"/>
<line x1="619.9" y1="317.0" x2="623.9" y2="317.0" stroke="#4a0d0d" stroke-width="0.9"/>
<text x="544.3" y="254.3">S</text>
<text x="617.8" y="254.3">D</text>
<text x="553.8" y="344.8">V<tspan font-size="10" dy="4.2">1−<tspan class="it">x</tspan></tspan><tspan dy="-4.2">W</tspan><tspan font-size="10" dy="4.2" class="it">x</tspan><tspan dy="-4.2">O</tspan><tspan font-size="10" dy="4.2">2</tspan></text>
<path d="M408.2 316 L500.8 225 L545 278.5" fill="none" stroke="#231f20" stroke-width="1.15"/>
<text x="544.3" y="204.8" text-anchor="middle">‘Additionally’</text>
<text x="545" y="220" text-anchor="middle">introduced carriers</text>
<text x="542.8" y="387.2" text-anchor="middle">‘Proliferatively’</text>
<text x="542.5" y="403.6" text-anchor="middle" font-size="15.45">generated carriers</text>
<path d="M296.8 428.6 V43.7 H682.2 V428.6 Z" fill="none" stroke="#231f20" stroke-width="1.3"/>
<text x="288.5" y="434.1" text-anchor="end">0</text>
<line x1="296.8" y1="417.6" x2="304.3" y2="417.6" stroke="#231f20" stroke-width="1.2"/>
<line x1="682.2" y1="417.6" x2="674.7" y2="417.6" stroke="#231f20" stroke-width="1.2"/>
<line x1="296.8" y1="406.6" x2="304.3" y2="406.6" stroke="#231f20" stroke-width="1.2"/>
<line x1="682.2" y1="406.6" x2="674.7" y2="406.6" stroke="#231f20" stroke-width="1.2"/>
<line x1="296.8" y1="395.6" x2="304.3" y2="395.6" stroke="#231f20" stroke-width="1.2"/>
<line x1="682.2" y1="395.6" x2="674.7" y2="395.6" stroke="#231f20" stroke-width="1.2"/>
<line x1="296.8" y1="384.6" x2="304.3" y2="384.6" stroke="#231f20" stroke-width="1.2"/>
<line x1="682.2" y1="384.6" x2="674.7" y2="384.6" stroke="#231f20" stroke-width="1.2"/>
<line x1="296.8" y1="373.6" x2="308.3" y2="373.6" stroke="#231f20" stroke-width="1.2"/>
<line x1="682.2" y1="373.6" x2="670.7" y2="373.6" stroke="#231f20" stroke-width="1.2"/>
<text x="288.5" y="379.1" text-anchor="end">50</text>
<line x1="296.8" y1="362.6" x2="304.3" y2="362.6" stroke="#231f20" stroke-width="1.2"/>
<line x1="682.2" y1="362.6" x2="674.7" y2="362.6" stroke="#231f20" stroke-width="1.2"/>
<line x1="296.8" y1="351.6" x2="304.3" y2="351.6" stroke="#231f20" stroke-width="1.2"/>
<line x1="682.2" y1="351.6" x2="674.7" y2="351.6" stroke="#231f20" stroke-width="1.2"/>
<line x1="296.8" y1="340.6" x2="304.3" y2="340.6" stroke="#231f20" stroke-width="1.2"/>
<line x1="682.2" y1="340.6" x2="674.7" y2="340.6" stroke="#231f20" stroke-width="1.2"/>
<line x1="296.8" y1="329.6" x2="304.3" y2="329.6" stroke="#231f20" stroke-width="1.2"/>
<line x1="682.2" y1="329.6" x2="674.7" y2="329.6" stroke="#231f20" stroke-width="1.2"/>
<line x1="296.8" y1="318.6" x2="308.3" y2="318.6" stroke="#231f20" stroke-width="1.2"/>
<line x1="682.2" y1="318.6" x2="670.7" y2="318.6" stroke="#231f20" stroke-width="1.2"/>
<text x="288.5" y="324.1" text-anchor="end">100</text>
<line x1="296.8" y1="307.6" x2="304.3" y2="307.6" stroke="#231f20" stroke-width="1.2"/>
<line x1="682.2" y1="307.6" x2="674.7" y2="307.6" stroke="#231f20" stroke-width="1.2"/>
<line x1="296.8" y1="296.6" x2="304.3" y2="296.6" stroke="#231f20" stroke-width="1.2"/>
<line x1="682.2" y1="296.6" x2="674.7" y2="296.6" stroke="#231f20" stroke-width="1.2"/>
<line x1="296.8" y1="285.6" x2="304.3" y2="285.6" stroke="#231f20" stroke-width="1.2"/>
<line x1="682.2" y1="285.6" x2="674.7" y2="285.6" stroke="#231f20" stroke-width="1.2"/>
<line x1="296.8" y1="274.6" x2="304.3" y2="274.6" stroke="#231f20" stroke-width="1.2"/>
<line x1="682.2" y1="274.6" x2="674.7" y2="274.6" stroke="#231f20" stroke-width="1.2"/>
<line x1="296.8" y1="263.6" x2="308.3" y2="263.6" stroke="#231f20" stroke-width="1.2"/>
<line x1="682.2" y1="263.6" x2="670.7" y2="263.6" stroke="#231f20" stroke-width="1.2"/>
<text x="288.5" y="269.1" text-anchor="end">150</text>
<line x1="296.8" y1="252.6" x2="304.3" y2="252.6" stroke="#231f20" stroke-width="1.2"/>
<line x1="682.2" y1="252.6" x2="674.7" y2="252.6" stroke="#231f20" stroke-width="1.2"/>
<line x1="296.8" y1="241.6" x2="304.3" y2="241.6" stroke="#231f20" stroke-width="1.2"/>
<line x1="682.2" y1="241.6" x2="674.7" y2="241.6" stroke="#231f20" stroke-width="1.2"/>
<line x1="296.8" y1="230.7" x2="304.3" y2="230.7" stroke="#231f20" stroke-width="1.2"/>
<line x1="682.2" y1="230.7" x2="674.7" y2="230.7" stroke="#231f20" stroke-width="1.2"/>
<line x1="296.8" y1="219.7" x2="304.3" y2="219.7" stroke="#231f20" stroke-width="1.2"/>
<line x1="682.2" y1="219.7" x2="674.7" y2="219.7" stroke="#231f20" stroke-width="1.2"/>
<line x1="296.8" y1="208.7" x2="308.3" y2="208.7" stroke="#231f20" stroke-width="1.2"/>
<line x1="682.2" y1="208.7" x2="670.7" y2="208.7" stroke="#231f20" stroke-width="1.2"/>
<text x="288.5" y="214.2" text-anchor="end">200</text>
<line x1="296.8" y1="197.7" x2="304.3" y2="197.7" stroke="#231f20" stroke-width="1.2"/>
<line x1="682.2" y1="197.7" x2="674.7" y2="197.7" stroke="#231f20" stroke-width="1.2"/>
<line x1="296.8" y1="186.7" x2="304.3" y2="186.7" stroke="#231f20" stroke-width="1.2"/>
<line x1="682.2" y1="186.7" x2="674.7" y2="186.7" stroke="#231f20" stroke-width="1.2"/>
<line x1="296.8" y1="175.7" x2="304.3" y2="175.7" stroke="#231f20" stroke-width="1.2"/>
<line x1="682.2" y1="175.7" x2="674.7" y2="175.7" stroke="#231f20" stroke-width="1.2"/>
<line x1="296.8" y1="164.7" x2="304.3" y2="164.7" stroke="#231f20" stroke-width="1.2"/>
<line x1="682.2" y1="164.7" x2="674.7" y2="164.7" stroke="#231f20" stroke-width="1.2"/>
<line x1="296.8" y1="153.7" x2="308.3" y2="153.7" stroke="#231f20" stroke-width="1.2"/>
<line x1="682.2" y1="153.7" x2="670.7" y2="153.7" stroke="#231f20" stroke-width="1.2"/>
<text x="288.5" y="159.2" text-anchor="end">250</text>
<line x1="296.8" y1="142.7" x2="304.3" y2="142.7" stroke="#231f20" stroke-width="1.2"/>
<line x1="682.2" y1="142.7" x2="674.7" y2="142.7" stroke="#231f20" stroke-width="1.2"/>
<line x1="296.8" y1="131.7" x2="304.3" y2="131.7" stroke="#231f20" stroke-width="1.2"/>
<line x1="682.2" y1="131.7" x2="674.7" y2="131.7" stroke="#231f20" stroke-width="1.2"/>
<line x1="296.8" y1="120.7" x2="304.3" y2="120.7" stroke="#231f20" stroke-width="1.2"/>
<line x1="682.2" y1="120.7" x2="674.7" y2="120.7" stroke="#231f20" stroke-width="1.2"/>
<line x1="296.8" y1="109.7" x2="304.3" y2="109.7" stroke="#231f20" stroke-width="1.2"/>
<line x1="682.2" y1="109.7" x2="674.7" y2="109.7" stroke="#231f20" stroke-width="1.2"/>
<line x1="296.8" y1="98.7" x2="308.3" y2="98.7" stroke="#231f20" stroke-width="1.2"/>
<line x1="682.2" y1="98.7" x2="670.7" y2="98.7" stroke="#231f20" stroke-width="1.2"/>
<text x="288.5" y="104.2" text-anchor="end">300</text>
<line x1="296.8" y1="87.7" x2="304.3" y2="87.7" stroke="#231f20" stroke-width="1.2"/>
<line x1="682.2" y1="87.7" x2="674.7" y2="87.7" stroke="#231f20" stroke-width="1.2"/>
<line x1="296.8" y1="76.7" x2="304.3" y2="76.7" stroke="#231f20" stroke-width="1.2"/>
<line x1="682.2" y1="76.7" x2="674.7" y2="76.7" stroke="#231f20" stroke-width="1.2"/>
<line x1="296.8" y1="65.7" x2="304.3" y2="65.7" stroke="#231f20" stroke-width="1.2"/>
<line x1="682.2" y1="65.7" x2="674.7" y2="65.7" stroke="#231f20" stroke-width="1.2"/>
<line x1="296.8" y1="54.7" x2="304.3" y2="54.7" stroke="#231f20" stroke-width="1.2"/>
<line x1="682.2" y1="54.7" x2="674.7" y2="54.7" stroke="#231f20" stroke-width="1.2"/>
<text x="288.5" y="49.2" text-anchor="end">350</text>
<line x1="389.6" y1="428.6" x2="389.6" y2="416.40000000000003" stroke="#231f20" stroke-width="1.2"/>
<line x1="389.6" y1="43.7" x2="389.6" y2="55.900000000000006" stroke="#231f20" stroke-width="1.2"/>
<text x="376.1" y="451.2">10<tspan font-size="11" dy="-5.5" dx="-0.8">13</tspan></text>
<line x1="482.6" y1="428.6" x2="482.6" y2="416.40000000000003" stroke="#231f20" stroke-width="1.2"/>
<line x1="482.6" y1="43.7" x2="482.6" y2="55.900000000000006" stroke="#231f20" stroke-width="1.2"/>
<text x="469.1" y="451.2">10<tspan font-size="11" dy="-5.5" dx="-0.8">14</tspan></text>
<line x1="575.5" y1="428.6" x2="575.5" y2="416.40000000000003" stroke="#231f20" stroke-width="1.2"/>
<line x1="575.5" y1="43.7" x2="575.5" y2="55.900000000000006" stroke="#231f20" stroke-width="1.2"/>
<text x="562.0" y="451.2">10<tspan font-size="11" dy="-5.5" dx="-0.8">15</tspan></text>
<line x1="668.5" y1="428.6" x2="668.5" y2="416.40000000000003" stroke="#231f20" stroke-width="1.2"/>
<line x1="668.5" y1="43.7" x2="668.5" y2="55.900000000000006" stroke="#231f20" stroke-width="1.2"/>
<text x="655.0" y="451.2">10<tspan font-size="11" dy="-5.5" dx="-0.8">16</tspan></text>
<text x="296.8" y="446.2" text-anchor="middle">0</text>
<path d="M333 48.900000000000006 L343.6 38.900000000000006 M342.3 48.900000000000006 L352.9 38.900000000000006" stroke="#231f20" stroke-width="1.3" fill="none"/>
<path d="M333 433.8 L343.6 423.8 M342.3 433.8 L352.9 423.8" stroke="#231f20" stroke-width="1.3" fill="none"/>
<text transform="translate(249,264) rotate(-90)" font-size="15"><tspan class="it">T</tspan><tspan font-size="11" dy="4">MI</tspan><tspan dy="-4"> (K)</tspan></text>
<text x="459.6" y="472.5"><tspan class="it">n</tspan><tspan font-size="11" dy="4.2">s</tspan><tspan dy="-4.2"> (cm</tspan><tspan font-size="11" dy="-5.5" dx="-0.5">−2</tspan><tspan dy="5.5" dx="-0.5">)</tspan></text>
<line x1="296.8" y1="97.6" x2="588" y2="142.5" stroke="#231f20" stroke-width="1.3" stroke-dasharray="6.8 3.6"/>
<path d="M588 142.5 L643.8 241.3 L652.5 285 L664.2 340.4 L666 428.6 L670.3 428.6 L674.6 428.6 L678.8 428.6" fill="none" stroke="#231f20" stroke-width="1.2"/>
<circle cx="588" cy="142.5" r="5.6" fill="#231f20"/>
<circle cx="643.8" cy="241.3" r="5.6" fill="#231f20"/>
<circle cx="652.5" cy="285" r="5.6" fill="#231f20"/>
<circle cx="664.2" cy="340.4" r="5.6" fill="#231f20"/>
<circle cx="666" cy="428.6" r="5.6" fill="#231f20"/>
<circle cx="670.3" cy="428.6" r="5.6" fill="#231f20"/>
<circle cx="674.6" cy="428.6" r="5.6" fill="#231f20"/>
<circle cx="678.8" cy="428.6" r="5.6" fill="#231f20"/>
<circle cx="296.8" cy="97.6" r="6.4" fill="#fff" stroke="#231f20" stroke-width="1.3"/>
<line x1="296.8" y1="115.2" x2="370.9" y2="115.2" stroke="#0054a6" stroke-width="1.3" stroke-dasharray="6.8 3.6"/>
<path d="M370.9 115.2 L398.7 116.3 L414.5 118 L426.7 131 L435.8 164 L443 171.1 L449.4 291.5 L454.8 428.6 L459.2 428.6" fill="none" stroke="#0054a6" stroke-width="1.2"/>
<circle cx="370.9" cy="115.2" r="5.6" fill="#0054a6"/>
<circle cx="398.7" cy="116.3" r="5.6" fill="#0054a6"/>
<circle cx="414.5" cy="118" r="5.6" fill="#0054a6"/>
<circle cx="426.7" cy="131" r="5.6" fill="#0054a6"/>
<circle cx="435.8" cy="164" r="5.6" fill="#0054a6"/>
<circle cx="443" cy="171.1" r="5.6" fill="#0054a6"/>
<circle cx="449.4" cy="291.5" r="5.6" fill="#0054a6"/>
<circle cx="454.8" cy="428.6" r="5.6" fill="#0054a6"/>
<circle cx="459.2" cy="428.6" r="5.6" fill="#0054a6"/>
<circle cx="296.8" cy="115.2" r="6.4" fill="#fff" stroke="#0054a6" stroke-width="1.3"/>
<line x1="296.8" y1="105.9" x2="370.9" y2="105.9" stroke="#00a651" stroke-width="1.3" stroke-dasharray="6.8 3.6"/>
<path d="M370.9 105.9 L398.7 109.3 L414.5 129.6 L426.7 146.4 L435.3 173.4 L443 196.3 L449.2 349.1 L454.4 428.6 L459.8 428.6" fill="none" stroke="#00a651" stroke-width="1.2"/>
<circle cx="370.9" cy="105.9" r="5.6" fill="#00a651"/>
<circle cx="398.7" cy="109.3" r="5.6" fill="#00a651"/>
<circle cx="414.5" cy="129.6" r="5.6" fill="#00a651"/>
<circle cx="426.7" cy="146.4" r="5.6" fill="#00a651"/>
<circle cx="435.3" cy="173.4" r="5.6" fill="#00a651"/>
<circle cx="443" cy="196.3" r="5.6" fill="#00a651"/>
<circle cx="449.2" cy="349.1" r="5.6" fill="#00a651"/>
<circle cx="454.4" cy="428.6" r="5.6" fill="#00a651"/>
<circle cx="459.8" cy="428.6" r="5.6" fill="#00a651"/>
<circle cx="296.8" cy="105.9" r="6.4" fill="#fff" stroke="#00a651" stroke-width="1.3"/>
<line x1="296.8" y1="67" x2="370.9" y2="68.5" stroke="#ed1c24" stroke-width="1.3" stroke-dasharray="6.8 3.6"/>
<path d="M370.9 68.5 L398.6 70.6 L414.3 73.3 L426.8 76.3 L435.1 80.5 L443 88.6 L448.8 94.2 L454.6 98.8 L459.2 126.5 L463.4 186.5 L467.4 287.3 L471 428.6 L474.2 428.6 L477.4 428.6 L480.6 428.6" fill="none" stroke="#ed1c24" stroke-width="1.2"/>
<circle cx="370.9" cy="68.5" r="5.6" fill="#ed1c24"/>
<circle cx="398.6" cy="70.6" r="5.6" fill="#ed1c24"/>
<circle cx="414.3" cy="73.3" r="5.6" fill="#ed1c24"/>
<circle cx="426.8" cy="76.3" r="5.6" fill="#ed1c24"/>
<circle cx="435.1" cy="80.5" r="5.6" fill="#ed1c24"/>
<circle cx="443" cy="88.6" r="5.6" fill="#ed1c24"/>
<circle cx="448.8" cy="94.2" r="5.6" fill="#ed1c24"/>
<circle cx="454.6" cy="98.8" r="5.6" fill="#ed1c24"/>
<circle cx="459.2" cy="126.5" r="5.6" fill="#ed1c24"/>
<circle cx="463.4" cy="186.5" r="5.6" fill="#ed1c24"/>
<circle cx="467.4" cy="287.3" r="5.6" fill="#ed1c24"/>
<circle cx="471" cy="428.6" r="5.6" fill="#ed1c24"/>
<circle cx="474.2" cy="428.6" r="5.6" fill="#ed1c24"/>
<circle cx="477.4" cy="428.6" r="5.6" fill="#ed1c24"/>
<circle cx="480.6" cy="428.6" r="5.6" fill="#ed1c24"/>
<circle cx="296.8" cy="67" r="6.4" fill="#fff" stroke="#ed1c24" stroke-width="1.3"/>
<text x="457.3" y="77.6" style="fill:#ed1c24">70 nm</text>
<line x1="462" y1="81.6" x2="453" y2="90.6" stroke="#ed1c24" stroke-width="1.2"/>
<text x="330" y="164" style="fill:#0054a6"><tspan class="it">t</tspan> = 10 nm</text>
<line x1="399.6" y1="157.6" x2="423" y2="135" stroke="#0054a6" stroke-width="1.2"/>
<text x="353.3" y="180" style="fill:#00a651">20 nm</text>
<line x1="399.6" y1="173.8" x2="422.5" y2="151" stroke="#00a651" stroke-width="1.2"/>
<text x="560" y="130" font-size="15.3"><tspan class="it">x</tspan> = 0.01</text>
</g>
</svg></body></html>
